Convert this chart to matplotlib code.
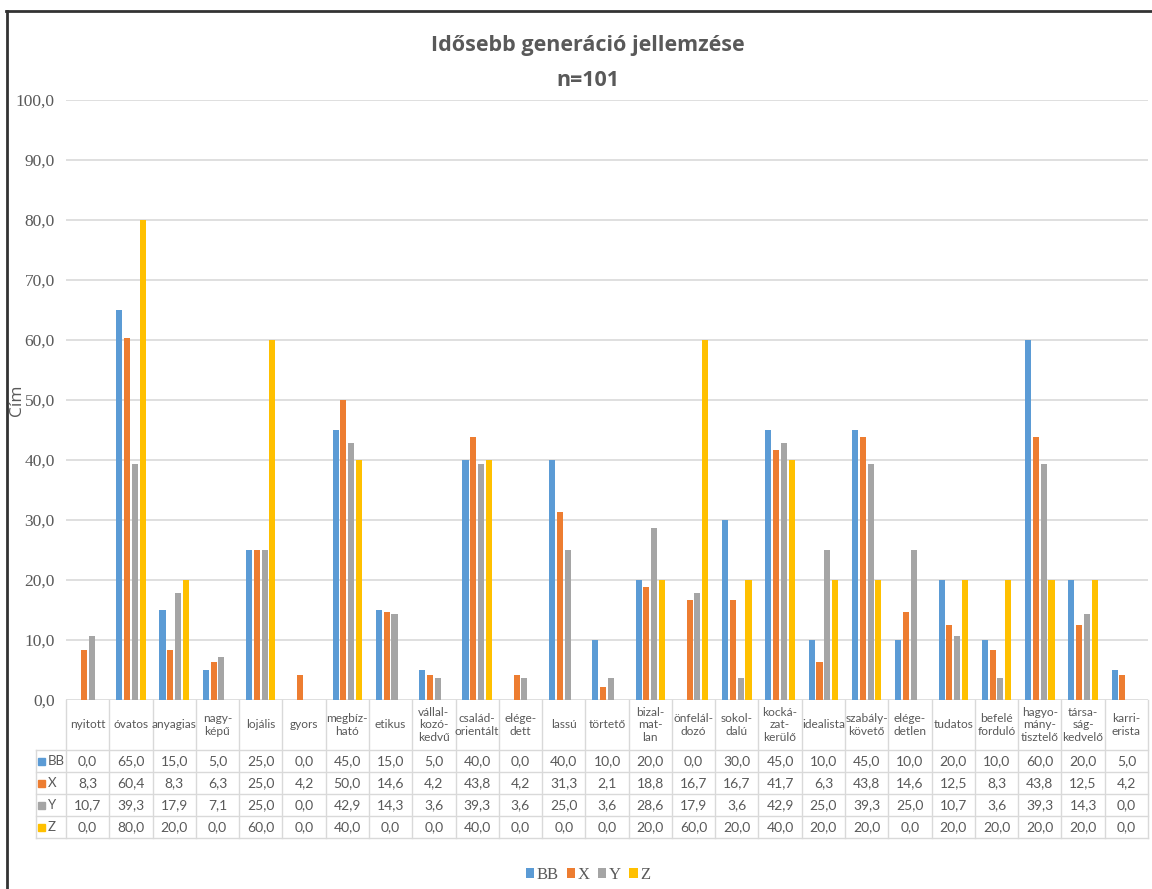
import matplotlib
matplotlib.use('Agg')
import matplotlib.pyplot as plt
from matplotlib.lines import Line2D
from matplotlib.patches import Rectangle, Patch
import matplotlib.transforms as mtransforms
import numpy as np

categories = ["nyitott", "óvatos", "anyagias", "nagy-\nképű", "lojális", "gyors",
              "megbíz-\nható", "etikus", "vállal-\nkozó-\nkedvű", "család-\norientált",
              "elége-\ndett", "lassú", "törtető", "bizal-\nmat-\nlan", "önfelál-\ndozó",
              "sokol-\ndalú", "kocká-\nzat-\nkerülő", "idealista", "szabály-\nkövető",
              "elége-\ndetlen", "tudatos", "befelé\nforduló", "hagyo-\nmány-\ntisztelő",
              "társa-\nság-\nkedvelő", "karri-\nerista"]
BB = [0.0, 65.0, 15.0, 5.0, 25.0, 0.0, 45.0, 15.0, 5.0, 40.0, 0.0, 40.0, 10.0, 20.0, 0.0,
      30.0, 45.0, 10.0, 45.0, 10.0, 20.0, 10.0, 60.0, 20.0, 5.0]
X = [8.3, 60.4, 8.3, 6.3, 25.0, 4.2, 50.0, 14.6, 4.2, 43.8, 4.2, 31.3, 2.1, 18.8, 16.7,
     16.7, 41.7, 6.3, 43.8, 14.6, 12.5, 8.3, 43.8, 12.5, 4.2]
Y = [10.7, 39.3, 17.9, 7.1, 25.0, 0.0, 42.9, 14.3, 3.6, 39.3, 3.6, 25.0, 3.6, 28.6, 17.9,
     3.6, 42.9, 25.0, 39.3, 25.0, 10.7, 3.6, 39.3, 14.3, 0.0]
Z = [0.0, 80.0, 20.0, 0.0, 60.0, 0.0, 40.0, 0.0, 0.0, 40.0, 0.0, 0.0, 0.0, 20.0, 60.0,
     20.0, 40.0, 20.0, 20.0, 0.0, 20.0, 20.0, 20.0, 20.0, 0.0]
series_names = ["BB", "X", "Y", "Z"]
series_colors = ["#5B9BD5", "#ED7D31", "#A5A5A5", "#FFC000"]
series_values = [BB, X, Y, Z]
yticks = [0, 10, 20, 30, 40, 50, 60, 70, 80, 90, 100]

W, H = 1152, 889
TXT = "#595959"
GRID = "#d9d9d9"
NARROW = ['Lato', 'DejaVu Sans']
SERIF = ['Liberation Serif', 'DejaVu Serif']

fig = plt.figure(figsize=(W / 100, H / 100), dpi=100)
fig.patch.set_facecolor('white')

def fx(px):
    return px / W

def fy(py):
    return 1 - py / H

n = len(categories)
ax_left, ax_right, ax_top, ax_bot = 66, 1148, 100, 700
ax = fig.add_axes([fx(ax_left), fy(ax_bot), (ax_right - ax_left) / W, (ax_bot - ax_top) / H])

xpos = np.arange(n)
bw = 0.14
step = 0.18
for j, (name, vals, col) in enumerate(zip(series_names, series_values, series_colors)):
    ax.bar(xpos + (j - 1.5) * step, vals, width=bw, color=col, label=name, zorder=3)

ax.set_xlim(-0.5, n - 0.5)
ax.set_ylim(0, 100)
ax.set_yticks(yticks)
ax.set_yticklabels([f"{v:.1f}".replace('.', ',') for v in yticks], family=SERIF,
                   fontsize=12.5, color=TXT)
ax.tick_params(axis='y', length=0, pad=8)
ax.set_xticks([])
ax.yaxis.grid(True, color=GRID, lw=1.2)
ax.set_axisbelow(True)
for s in ax.spines.values():
    s.set_visible(False)

# Data table
trans = mtransforms.blended_transform_factory(ax.transData, fig.transFigure)
row_tops = [750, 772, 794, 816, 838]
header_top = 700
lc = GRID
for i in range(n + 1):
    fig.add_artist(Line2D([i - 0.5, i - 0.5], [fy(header_top), fy(row_tops[-1])],
                          transform=trans, color=lc, lw=1))
fig.add_artist(Line2D([fx(36), fx(36)], [fy(row_tops[0]), fy(row_tops[-1])],
                      transform=fig.transFigure, color=lc, lw=1))
for yy in row_tops:
    fig.add_artist(Line2D([fx(36), fx(ax_right)], [fy(yy), fy(yy)],
                          transform=fig.transFigure, color=lc, lw=1))

for i, c in enumerate(categories):
    fig.text(i, fy((header_top + row_tops[0]) / 2), c, transform=trans, ha='center',
             va='center', family=NARROW, fontsize=8.6, color=TXT, linespacing=1.2)

for j, (name, vals, col) in enumerate(zip(series_names, series_values, series_colors)):
    yc = fy((row_tops[j] + row_tops[j + 1]) / 2)
    for i, v in enumerate(vals):
        fig.text(i, yc, f"{v:.1f}".replace('.', ','), transform=trans, ha='center',
                 va='center', family=NARROW, fontsize=10, color=TXT)
    fig.add_artist(Rectangle((fx(38), yc - 3.5 / H), 7 / W, 7 / H, transform=fig.transFigure,
                             color=col))
    fig.text(fx(48), yc, name, ha='left', va='center', family=NARROW, fontsize=9.5, color=TXT)

fig.text(fx(588), fy(45), "Idősebb generáció jellemzése", ha='center', va='center',
         fontsize=15.5, fontweight='bold', color=TXT, family=['Open Sans', 'DejaVu Sans'])
fig.text(fx(588), fy(81), "n=101", ha='center', va='center',
         fontsize=15.5, fontweight='bold', color=TXT, family=['Open Sans', 'DejaVu Sans'])

fig.text(fx(17), fy(400), "Cím", rotation=90, ha='center', va='center', fontsize=12.5,
         color=TXT, family=['Open Sans', 'DejaVu Sans'])

handles = [Patch(facecolor=c, edgecolor='none') for c in series_colors]
leg = fig.legend(handles, series_names, loc='center', bbox_to_anchor=(fx(588), fy(875)),
                 ncol=4, frameon=False, prop={'family': SERIF, 'size': 12},
                 handlelength=0.5, handleheight=0.5, handletextpad=0.15, columnspacing=0.5)
for t in leg.get_texts():
    t.set_color(TXT)

fig.add_artist(Line2D([fx(6.5), fx(6.5)], [fy(11), 0], transform=fig.transFigure,
                      color='#333333', lw=2))
fig.add_artist(Line2D([fx(6), 1], [fy(11), fy(11)], transform=fig.transFigure,
                      color='#333333', lw=2))

fig.savefig('out.png', dpi=100)
